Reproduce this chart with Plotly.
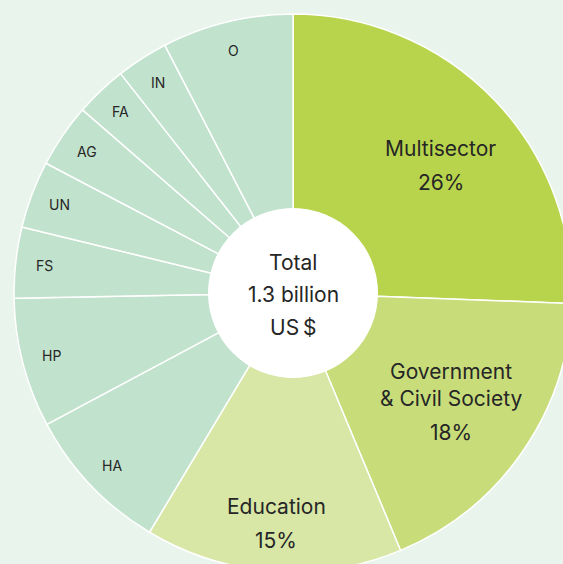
import math
import plotly.graph_objects as go

# ---- data ----
categories = ["Multisector", "Government & Civil Society", "Education", "HA", "HP",
              "FS", "UN", "AG", "FA", "IN", "O"]
values = [25.6, 18.1, 14.9, 8.6, 7.5, 4.1, 3.9, 3.7, 3.0, 3.0, 7.6]
name_lines = [["Multisector"], ["Government", "& Civil Society"], ["Education"],
              ["HA"], ["HP"], ["FS"], ["UN"], ["AG"], ["FA"], ["IN"], ["O"]]
pct_labels = ["26%", "18%", "15%", "", "", "", "", "", "", "", ""]
center_lines = ["Total", "1.3 billion", "US\u2009$"]

# ---- style ----
colors = ["#b8d44c", "#c8dd7a", "#d8e6a6"] + ["#c1e2cc"] * 8
label_radius = [195, 192, 231] + [250] * 8     # px from centre
label_angle_shift = [3.1, 0, 0] + [0] * 8      # degrees, nudge off the mid-angle
BG = "#e9f4ec"
TXT = "#262626"
FONT = "Inter, Noto Sans, sans-serif"

S = 558            # plot area size (px)
HOLE_R = 85
ML, MT = 14, 14
W = H = ML + S + 20

fig = go.Figure(go.Pie(
    labels=categories, values=values, sort=False, direction="clockwise",
    rotation=0, hole=0.3, textinfo="none", hoverinfo="label+percent",
    marker=dict(colors=colors, line=dict(color="white", width=1.5)),
    domain=dict(x=[0, 1], y=[0, 1]), showlegend=False,
))

annotations = []


def add_line(text, dx, dy, size):
    annotations.append(dict(
        text=text, x=0.5 + dx / S, y=0.5 - dy / S, xref="paper", yref="paper",
        showarrow=False, xanchor="center", yanchor="middle",
        font=dict(family=FONT, size=size, color=TXT)))


total = sum(values)
cum = 0.0
for i, v in enumerate(values):
    mid = (cum + v / 2) / total * 2 * math.pi + math.radians(label_angle_shift[i])
    cum += v
    r = label_radius[i]
    ax, ay = r * math.sin(mid), -r * math.cos(mid)
    lines = list(name_lines[i])
    if pct_labels[i]:
        # name lines pitched 27px, percentage 34px below last name line
        offs = [27 * k for k in range(len(lines))]
        offs.append(offs[-1] + 34)
        lines.append(pct_labels[i])
        c = (offs[0] + offs[-1]) / 2
        for t, o in zip(lines, offs):
            add_line(t, ax, ay + o - c, 21)
    else:
        add_line(lines[0], ax, ay, 14)

# centre text
for k, t in enumerate(center_lines):
    add_line(t, 0, (k - 1) * 32.5 + 2, 21)

fig.update_layout(
    width=W, height=H, margin=dict(l=ML, t=MT, r=W - ML - S, b=H - MT - S),
    paper_bgcolor=BG, plot_bgcolor=BG, annotations=annotations,
    shapes=[dict(type="circle", xref="paper", yref="paper",
                 x0=0.5 - HOLE_R / S, x1=0.5 + HOLE_R / S,
                 y0=0.5 - HOLE_R / S, y1=0.5 + HOLE_R / S,
                 fillcolor="white", line=dict(color="white", width=0), layer="above")],
)

fig.write_html(
    "out.html",
    config={"displayModeBar": False},
    post_script=("document.body.style.margin='0';"
                 "document.body.style.overflow='hidden';"
                 "document.body.style.background='" + BG + "';"),
)
